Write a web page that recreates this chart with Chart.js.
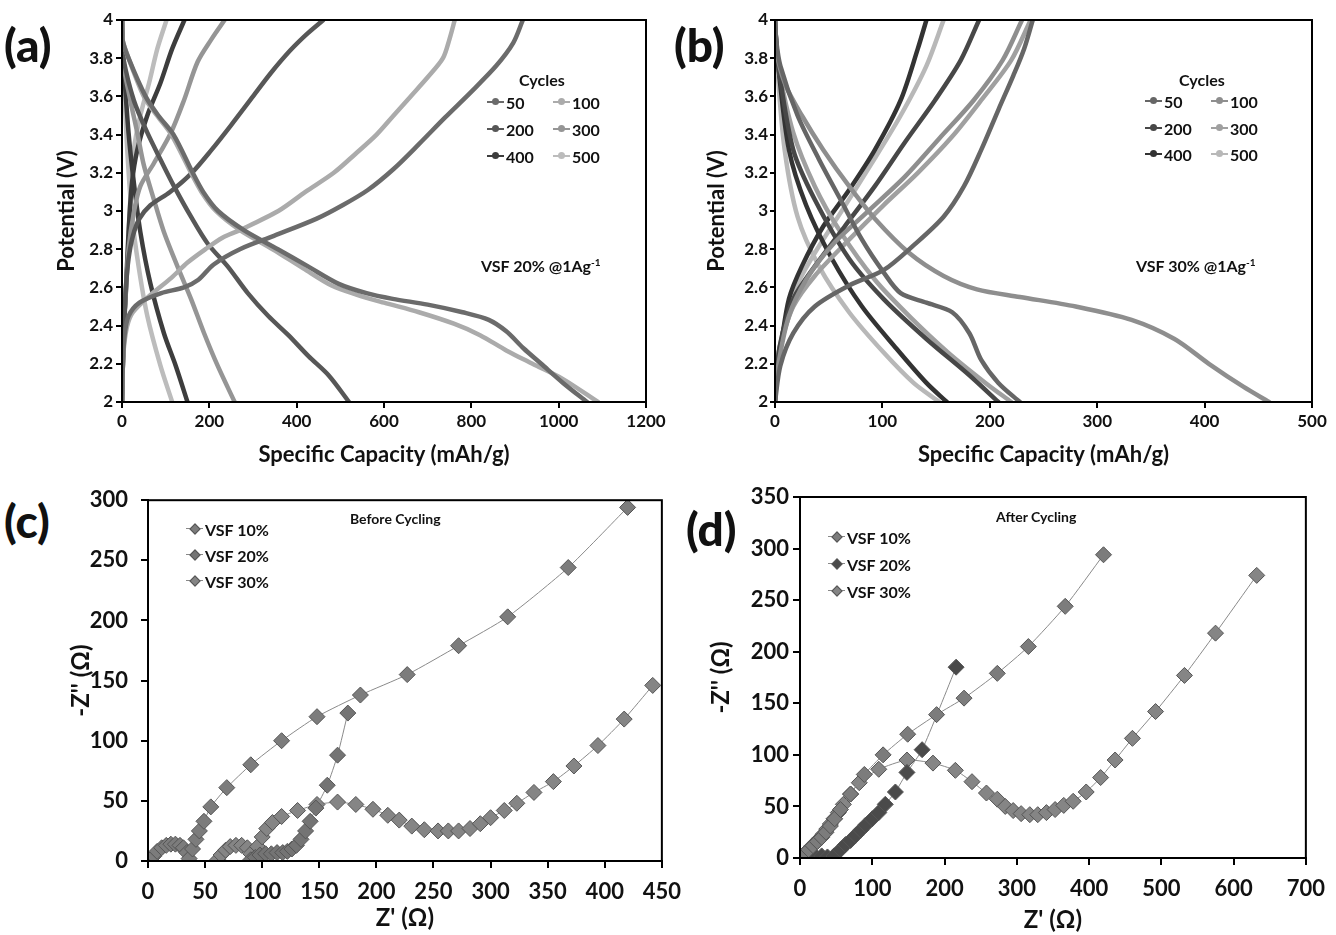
<!DOCTYPE html>
<html>
<head>
<meta charset="utf-8">
<script src="https://cdn.jsdelivr.net/npm/chart.js@4.4.0/dist/chart.umd.min.js"></script>
<style>
  body { margin: 0; background: #fff; }
  #fig { position: relative; width: 1336px; height: 935px; overflow: hidden; font-family: Lato, 'Open Sans', sans-serif; font-weight: bold; color: #111; }
  #fig canvas { position: absolute; }
  .plab { position: absolute; font-size: 46px; font-weight: 900; line-height: 1; }
  .note { position: absolute; font-size: 16px; white-space: nowrap; }
  .note sup { font-size: 10px; }
  .leg { position: absolute; font-size: 16px; white-space: nowrap; }
  .row { position: absolute; display: flex; align-items: center; height: 18px; }
  .mk { position: relative; width: 17px; height: 18px; margin-right: 2px; }
  .mk .ln { position: absolute; left: 0; right: 0; top: 8px; height: 2px; }
  .mk .dot { position: absolute; left: 5px; top: 5px; width: 7px; height: 7px; border-radius: 50%; }
  .mk .dia { position: absolute; left: 5px; top: 5px; width: 6px; height: 6px; transform: rotate(45deg); }
</style>
</head>
<body>
<div id="fig">
  <canvas id="ca" width="626" height="472" style="left:50px;top:0px"></canvas>
  <canvas id="cb" width="636" height="472" style="left:700px;top:0px"></canvas>
  <canvas id="cc" width="627" height="461" style="left:65px;top:474px"></canvas>
  <canvas id="cd" width="631" height="458" style="left:705px;top:477px"></canvas>

  <div class="plab" style="left:4px;top:22px">(a)</div>
  <div class="plab" style="left:674px;top:22px">(b)</div>
  <div class="plab" style="left:4px;top:498px">(c)</div>
  <div class="plab" style="left:686px;top:506px">(d)</div>

  <div class="note" style="left:481px;top:256px">VSF 20% @1Ag<sup>-1</sup></div>
  <div class="note" style="left:1136px;top:256px">VSF 30% @1Ag<sup>-1</sup></div>
  <div class="note" style="left:350px;top:510px;font-size:14px">Before Cycling</div>
  <div class="note" style="left:996px;top:508px;font-size:14px">After Cycling</div>

  <div id="legA" class="leg"></div>
  <div id="legB" class="leg"></div>
  <div id="legC" class="leg"></div>
  <div id="legD" class="leg"></div>
</div>
<script>
// ---- data ----
// (a), (b): [specific capacity mAh/g, potential V]
const cycles = ['50', '100', '200', '300', '400', '500'];

const aCharge50  = [[0,2],[2,2.2],[6,2.35],[15,2.45],[40,2.52],[90,2.57],[142,2.6],[175,2.64],[210,2.72],[270,2.8],[348,2.87],[446,2.96],[505,3.03],[563,3.11],[622,3.22],[680,3.35],[740,3.49],[798,3.62],[857,3.76],[896,3.88],[918,4.0]];
const aCharge100 = [[0,2],[2,2.2],[5,2.3],[12,2.4],[25,2.47],[60,2.55],[113,2.65],[150,2.73],[191,2.8],[230,2.86],[270,2.9],[358,3.0],[420,3.1],[485,3.2],[535,3.3],[583,3.4],[622,3.5],[661,3.6],[700,3.7],[735,3.8],[750,3.9],[762,4.0]];
const aCharge200 = [[0,2],[2,2.2],[5,2.4],[9,2.6],[15,2.75],[25,2.87],[40,2.96],[65,3.03],[110,3.1],[160,3.2],[205,3.32],[250,3.45],[300,3.6],[340,3.72],[385,3.84],[425,3.93],[461,4.0]];
const aCharge300 = [[0,2],[2,2.2],[4,2.4],[8,2.54],[15,2.8],[27,2.99],[42,3.13],[73,3.25],[112,3.41],[142,3.58],[173,3.78],[205,3.9],[235,4.0]];
const aCharge400 = [[0,2],[2,2.2],[4,2.4],[8,2.54],[15,2.89],[23,3.15],[35,3.32],[58,3.5],[88,3.67],[115,3.85],[143,4.0]];
const aCharge500 = [[0,2],[2,2.2],[5,2.4],[12,2.71],[19,3.06],[27,3.32],[42,3.5],[62,3.67],[81,3.85],[102,4.0]];

const aDis50  = [[0,4],[1,3.9],[15,3.8],[54,3.6],[83,3.5],[118,3.4],[162,3.2],[186,3.1],[220,3.0],[279,2.9],[357,2.8],[426,2.71],[495,2.62],[560,2.57],[620,2.54],[700,2.51],[780,2.47],[840,2.43],[880,2.37],[920,2.28],[960,2.2],[1010,2.1],[1065,2.0]];
const aDis100 = [[0,4],[1,3.9],[15,3.8],[50,3.6],[80,3.5],[113,3.4],[158,3.2],[182,3.1],[215,3.0],[270,2.9],[345,2.8],[415,2.7],[480,2.61],[540,2.56],[600,2.52],[680,2.47],[760,2.41],[820,2.35],[880,2.27],[940,2.2],[1010,2.12],[1090,2.0]];
const aDis200 = [[0,4],[1,3.9],[3,3.8],[27,3.58],[58,3.41],[88,3.27],[119,3.13],[158,2.97],[196,2.83],[242,2.71],[288,2.57],[335,2.45],[381,2.35],[427,2.24],[473,2.14],[520,2.0]];
const aDis300 = [[0,4],[1,3.9],[4,3.76],[19,3.58],[35,3.41],[50,3.24],[73,3.06],[96,2.89],[127,2.71],[158,2.54],[188,2.36],[219,2.19],[258,2.0]];
const aDis400 = [[0,4],[1,3.9],[4,3.76],[15,3.41],[27,3.15],[42,2.89],[65,2.62],[96,2.36],[123,2.19],[150,2.0]];
const aDis500 = [[0,4],[1,3.9],[4,3.7],[12,3.32],[23,2.97],[38,2.71],[58,2.45],[88,2.19],[115,2.0]];

const bCharge50  = [[0,2],[5,2.19],[17,2.36],[37,2.5],[69,2.61],[101,2.69],[129,2.82],[157,2.97],[176,3.13],[192,3.32],[208,3.53],[222,3.71],[232,3.85],[240,4.0]];
const bCharge100 = [[0,2],[3,2.19],[13,2.45],[29,2.64],[53,2.82],[85,2.99],[121,3.18],[153,3.38],[185,3.58],[212,3.79],[230,4.0]];
const bCharge200 = [[0,2],[2,2.2],[7,2.36],[17,2.54],[37,2.71],[65,2.92],[93,3.13],[121,3.36],[149,3.58],[173,3.79],[190,4.0]];
const bCharge300 = [[0,2],[2,2.2],[5,2.3],[17,2.5],[37,2.66],[69,2.85],[101,3.03],[133,3.2],[165,3.39],[192,3.58],[220,3.79],[238,4.0]];
const bCharge400 = [[0,2],[2,2.2],[5,2.28],[13,2.54],[25,2.71],[45,2.92],[69,3.11],[93,3.32],[117,3.58],[133,3.85],[141,4.0]];
const bCharge500 = [[0,2],[2,2.2],[7,2.36],[17,2.57],[37,2.78],[61,2.99],[89,3.24],[117,3.5],[141,3.76],[157,4.0]];

const bDis50  = [[0,4],[1,3.9],[5,3.76],[21,3.5],[41,3.27],[61,3.06],[81,2.85],[101,2.68],[117,2.57],[141,2.52],[165,2.47],[181,2.36],[192,2.22],[208,2.1],[228,2.0]];
const bDis100 = [[0,4],[1,3.85],[9,3.67],[25,3.5],[45,3.32],[69,3.13],[93,2.96],[125,2.78],[157,2.66],[188,2.59],[228,2.55],[280,2.5],[332,2.43],[372,2.33],[404,2.2],[436,2.08],[460,2.0]];
const bDis200 = [[0,4],[1,3.9],[3,3.76],[17,3.32],[37,3.06],[69,2.75],[101,2.54],[141,2.33],[181,2.14],[208,2.0]];
const bDis300 = [[0,4],[1,3.9],[3,3.76],[17,3.41],[37,3.13],[61,2.89],[93,2.64],[125,2.45],[161,2.26],[196,2.1],[220,2.0]];
const bDis400 = [[0,4],[1,3.9],[3,3.76],[13,3.32],[29,3.03],[53,2.75],[81,2.5],[113,2.28],[141,2.1],[160,2.0]];
const bDis500 = [[0,4],[1,3.9],[2,3.76],[9,3.32],[21,2.97],[41,2.71],[69,2.47],[101,2.26],[129,2.1],[153,2.0]];

// (c), (d): Nyquist points [Z' ohm, -Z'' ohm]
const vsfNames = ['VSF 10%', 'VSF 20%', 'VSF 30%'];
const cBefore10 = [[2,1],[5,4],[8,8],[12,11],[16,13],[20,14],[24,14],[28,13],[31,11],[34,7],[36,2],[39,10],[42,18],[45,25],[49,33],[55,45],[69,61],[90,80],[117,100],[148,120],[186,138],[227,155],[272,179],[315,203],[368,244],[420,294]];
const cBefore20 = [[90,1],[94,3],[98,5],[103,6],[108,6],[113,7],[118,7],[122,8],[126,10],[130,13],[134,18],[138,25],[142,33],[147,44],[157,63],[166,88],[175,123]];
const cBefore30 = [[61,1],[64,5],[68,9],[72,12],[77,13],[82,13],[87,11],[90,6],[92,1],[96,12],[100,20],[104,27],[109,32],[117,37],[131,42],[148,47],[166,49],[182,47],[197,43],[210,38],[220,34],[231,29],[242,26],[254,25],[263,25],[272,25],[282,27],[291,31],[300,36],[312,42],[323,48],[338,57],[355,66],[373,79],[394,96],[417,118],[442,146]];
const dAfter10 = [[2,1],[6,4],[12,8],[18,12],[24,16],[30,20],[36,25],[42,31],[48,38],[56,47],[70,62],[89,81],[115,100],[149,120],[189,139],[227,155],[273,179],[316,205],[367,244],[420,294]];
const dAfter20 = [[22,1],[30,2],[38,1],[47,2],[56,8],[63,13],[70,17],[77,22],[84,27],[91,32],[100,38],[109,44],[118,52],[132,64],[148,83],[169,105],[216,185]];
const dAfter30 = [[3,1],[7,4],[12,8],[17,12],[22,15],[27,19],[32,23],[37,28],[42,33],[47,38],[53,44],[60,52],[70,62],[82,73],[109,86],[148,95],[184,92],[215,85],[238,74],[258,63],[273,57],[284,50],[295,46],[306,43],[318,42],[329,42],[341,44],[353,47],[365,51],[378,55],[396,64],[416,78],[436,95],[460,116],[492,142],[532,177],[575,218],[632,274]];

// ---- styles ----
const greysA = ['#6b6b6b', '#ababab', '#575757', '#959595', '#3d3d3d', '#bcbcbc'];
const greysB = ['#666666', '#8e8e8e', '#474747', '#a0a0a0', '#333333', '#b8b8b8'];
const greysEisC = ['#7c7c7c', '#747474', '#858585'];
const greysEisD = ['#7c7c7c', '#4a4a4a', '#858585'];
const FONT = 'Lato, "Open Sans", sans-serif';

const framePlugin = {
    id: 'frame',
    afterDatasetsDraw(chart) {
        const { ctx, chartArea: a } = chart;
        ctx.save();
        ctx.strokeStyle = '#000';
        ctx.lineWidth = 2;
        ctx.strokeRect(a.left, a.top, a.right - a.left, a.bottom - a.top);
        ctx.restore();
    }
};

function pts(arr) { return arr.map(p => ({ x: p[0], y: p[1] })); }

function curve(arr, color) {
    return { data: pts(arr), showLine: true, borderColor: color, backgroundColor: color,
             borderWidth: 4.5, pointRadius: 0, tension: 0.3, borderCapStyle: 'round' };
}

function eis(arr, color) {
    return { data: pts(arr), showLine: true, borderColor: '#8a8a8a', borderWidth: 1,
             pointStyle: 'rectRot', pointRadius: 8, pointBackgroundColor: color,
             pointBorderColor: '#555', pointBorderWidth: 1, tension: 0.2 };
}

function axis(o) {
    return {
        type: 'linear', min: o.min, max: o.max,
        afterFit: s => { if (o.w) s.width = o.w; if (o.h) s.height = o.h; },
        border: { color: '#000', width: 2 },
        grid: { drawOnChartArea: false, drawTicks: true, tickLength: o.tl || 6, color: '#000', lineWidth: 2 },
        ticks: { stepSize: o.step, color: '#111', padding: o.pad || 3, maxRotation: 0, autoSkip: false,
                 font: { family: FONT, size: o.fs, weight: 'bold' },
                 callback: v => String(Number(v.toFixed(1))) },
        title: { display: true, text: o.title, color: '#111', padding: o.tpad || { top: 4, bottom: 4 },
                 font: { family: FONT, size: o.tfs, weight: 'bold' } }
    };
}

function makeChart(id, datasets, pad, xo, yo) {
    return new Chart(document.getElementById(id), {
        type: 'scatter',
        data: { datasets },
        options: {
            responsive: false, animation: false,
            layout: { padding: pad },
            plugins: { legend: { display: false }, tooltip: { enabled: false } },
            scales: { x: axis(xo), y: axis(yo) }
        },
        plugins: [framePlugin]
    });
}

const aCharge = [aCharge50, aCharge100, aCharge200, aCharge300, aCharge400, aCharge500];
const aDis = [aDis50, aDis100, aDis200, aDis300, aDis400, aDis500];
const bCharge = [bCharge50, bCharge100, bCharge200, bCharge300, bCharge400, bCharge500];
const bDis = [bDis50, bDis100, bDis200, bDis300, bDis400, bDis500];

const setsA = [], setsB = [];
cycles.forEach((c, i) => {
    setsA.push(curve(aCharge[i], greysA[i]), curve(aDis[i], greysA[i]));
    setsB.push(curve(bCharge[i], greysB[i]), curve(bDis[i], greysB[i]));
});

makeChart('ca', setsA, { top: 20, right: 30, left: 0, bottom: 0 },
    { min: 0, max: 1200, step: 200, fs: 17, tfs: 22, h: 70, title: 'Specific Capacity (mAh/g)' },
    { min: 2, max: 4, step: 0.2, fs: 17, tfs: 22, w: 72, title: 'Potential (V)' });

makeChart('cb', setsB, { top: 20, right: 24, left: 0, bottom: 0 },
    { min: 0, max: 500, step: 100, fs: 17, tfs: 22, h: 70, title: 'Specific Capacity (mAh/g)' },
    { min: 2, max: 4, step: 0.2, fs: 17, tfs: 22, w: 75, tl: 5, pad: 2, title: 'Potential (V)' });

const setsC = [cBefore10, cBefore20, cBefore30].map((d, i) => eis(d, greysEisC[i]));
const setsD = [dAfter10, dAfter20, dAfter30].map((d, i) => eis(d, greysEisD[i]));

makeChart('cc', setsC, { top: 20, right: 30, left: 0, bottom: 0 },
    { min: 0, max: 450, step: 50, fs: 22, tfs: 24, h: 74, tl: 7, pad: 11, tpad: { top: 0, bottom: 2 }, title: "Z' (Ω)" },
    { min: 0, max: 300, step: 50, fs: 22, tfs: 24, w: 83, tl: 7, pad: 13, tpad: { top: 2, bottom: 2 }, title: "-Z'' (Ω)" });

makeChart('cd', setsD, { top: 20, right: 16, left: 0, bottom: 0 },
    { min: 0, max: 700, step: 100, fs: 22, tfs: 24, h: 77, tl: 7, pad: 11, tpad: { top: 0, bottom: 0 }, title: "Z' (Ω)" },
    { min: 0, max: 350, step: 50, fs: 22, tfs: 24, w: 95, tl: 7, pad: 4, tpad: { top: 2, bottom: 2 }, title: "-Z'' (Ω)" });

// ---- legends ----
function cycleLegend(el, colors, x0, x1, rowsY, headX, headY) {
    let html = `<div class="row" style="left:${headX}px;top:${headY}px">Cycles</div>`;
    cycles.forEach((c, i) => {
        const x = i % 2 === 0 ? x0 : x1;
        const y = rowsY[Math.floor(i / 2)];
        html += `<div class="row" style="left:${x}px;top:${y - 9}px"><span class="mk"><span class="ln" style="background:${colors[i]}"></span><span class="dot" style="background:${colors[i]}"></span></span>${c}</div>`;
    });
    el.innerHTML = html;
}

function eisLegend(el, colors, x0, rowsY) {
    el.innerHTML = vsfNames.map((n, i) =>
        `<div class="row" style="left:${x0}px;top:${rowsY[i] - 9}px"><span class="mk"><span class="ln" style="background:#888;height:1px"></span><span class="dia" style="background:${colors[i]};border:1px solid #555"></span></span>${n}</div>`
    ).join('');
}

cycleLegend(document.getElementById('legA'), greysA, 487, 553, [102, 129, 156], 519, 70);
cycleLegend(document.getElementById('legB'), greysB, 1145, 1211, [101, 128, 154], 1179, 70);
eisLegend(document.getElementById('legC'), greysEisC, 186, [529, 555, 581]);
eisLegend(document.getElementById('legD'), greysEisD, 828, [537, 564, 591]);
</script>
</body>
</html>
